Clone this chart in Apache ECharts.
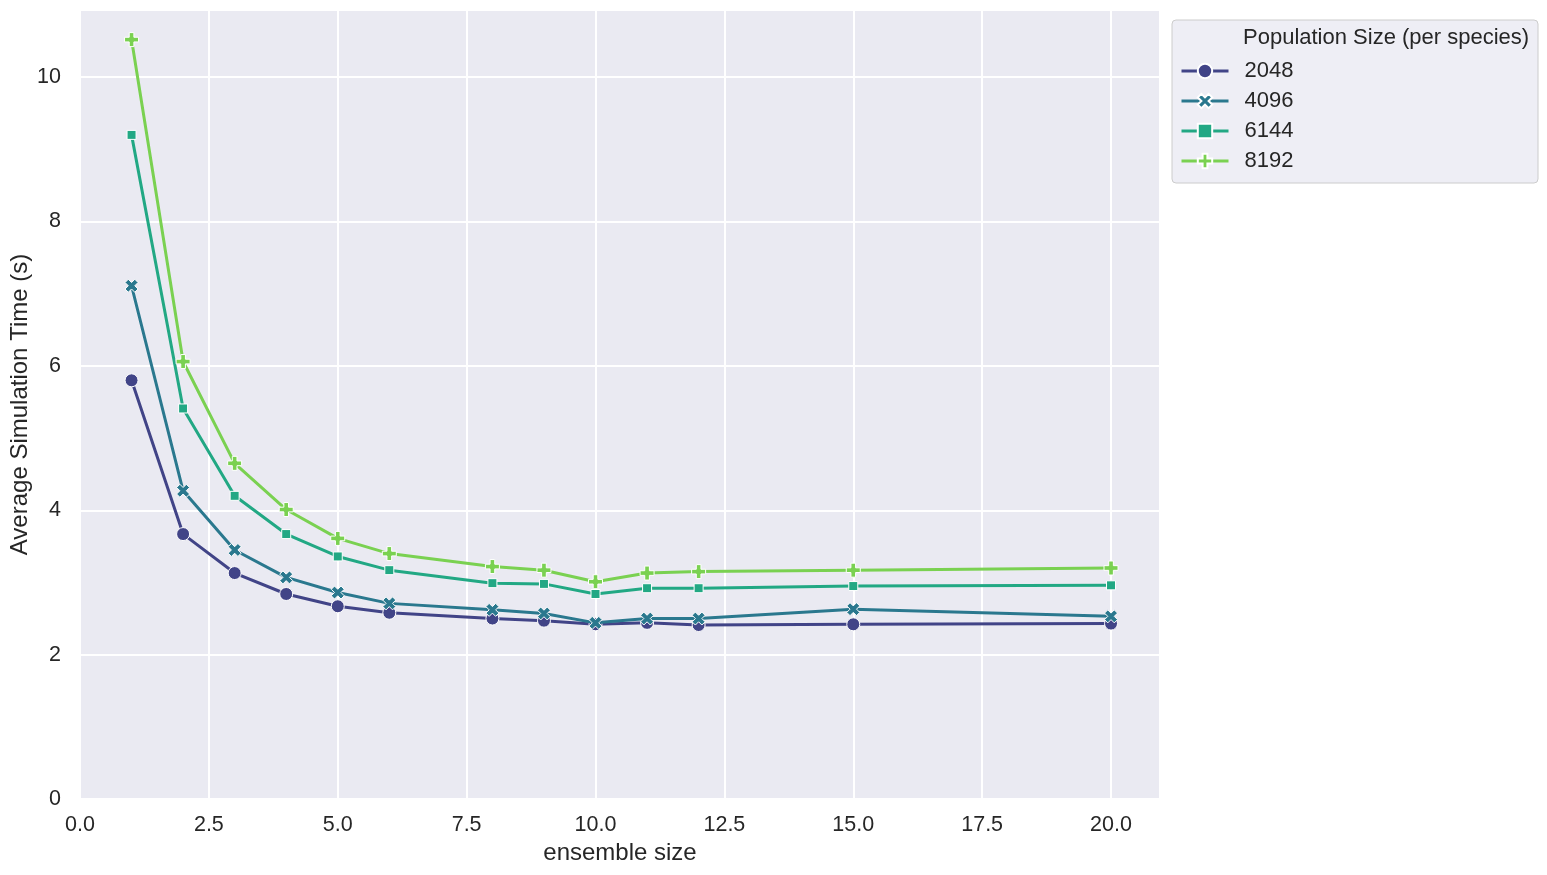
<!DOCTYPE html>
<html>
<head>
<meta charset="utf-8">
<script src="https://cdn.jsdelivr.net/npm/echarts@6/dist/echarts.min.js"></script>
<style>
html,body{margin:0;padding:0;background:#fff;}
#chart{width:1547px;height:875px;}
</style>
</head>
<body>
<div id="chart"></div>
<script>
// ---- data ----
const ensembleSize = [1, 2, 3, 4, 5, 6, 8, 9, 10, 11, 12, 15, 20];
const seriesNames = ['2048', '4096', '6144', '8192'];
const pop2048 = [5.80, 3.67, 3.13, 2.84, 2.67, 2.58, 2.50, 2.47, 2.42, 2.44, 2.41, 2.42, 2.43];
const pop4096 = [7.11, 4.27, 3.45, 3.07, 2.86, 2.71, 2.62, 2.57, 2.44, 2.50, 2.50, 2.63, 2.53];
const pop6144 = [9.20, 5.41, 4.20, 3.67, 3.36, 3.17, 2.99, 2.98, 2.84, 2.92, 2.92, 2.95, 2.96];
const pop8192 = [10.52, 6.06, 4.65, 4.01, 3.61, 3.40, 3.22, 3.17, 3.01, 3.13, 3.15, 3.17, 3.20];
const xTickLabels = ['0.0', '2.5', '5.0', '7.5', '10.0', '12.5', '15.0', '17.5', '20.0'];
const yTickLabels = ['0', '2', '4', '6', '8', '10'];
const legendTitle = 'Population Size (per species)';
const xName = 'ensemble size';
const yName = 'Average Simulation Time (s)';

// ---- styles ----
const FONT = "'Liberation Sans', Arial, sans-serif";
const TXT = '#262626';
const colors = ['#414487', '#2a788e', '#22a884', '#7ad151'];
const symX = 'path://M1,0 L2,1 L1,2 L0,1 L-1,2 L-2,1 L-1,0 L-2,-1 L-1,-2 L0,-1 L1,-2 L2,-1 Z';
const symP = 'path://M-1,-3 L1,-3 L1,-1 L3,-1 L3,1 L1,1 L1,3 L-1,3 L-1,1 L-3,1 L-3,-1 L-1,-1 Z';
const symbols = ['circle', symX, 'rect', symP];
const symbolSizes = [13, 13, 9, 14];
const allValues = [pop2048, pop4096, pop6144, pop8192];

const series = seriesNames.map((name, i) => ({
  name: name,
  type: 'line',
  data: ensembleSize.map((x, j) => [x, allValues[i][j]]),
  symbol: symbols[i],
  symbolSize: symbolSizes[i],
  showSymbol: true,
  lineStyle: { width: 3, color: colors[i] },
  itemStyle: { color: colors[i], borderColor: '#ffffff', borderWidth: 1 },
  z: 3 + i
}));

const chart = echarts.init(document.getElementById('chart'), null, { renderer: 'canvas' });
chart.setOption({
  animation: false,
  color: colors,
  textStyle: { fontFamily: FONT, color: TXT },
  grid: {
    left: 80, right: 387, top: 10, bottom: 76,
    outerBoundsMode: 'none',
    containLabel: false,
    show: true, backgroundColor: '#eaeaf2', borderWidth: 0
  },
  xAxis: {
    type: 'value',
    min: 0, max: 20.95, interval: 2.5,
    name: xName, nameLocation: 'middle', nameGap: 42,
    nameMoveOverlap: false,
    nameTextStyle: { fontSize: 24, color: TXT, fontFamily: FONT },
    axisLine: { show: false }, axisTick: { show: false },
    splitLine: { show: true, lineStyle: { color: '#ffffff', width: 2 } },
    axisLabel: {
      fontSize: 21.5, color: TXT, fontFamily: FONT, margin: 15,
      showMaxLabel: false,
      formatter: v => {
        const k = Math.round(v / 2.5);
        return (Math.abs(v - k * 2.5) < 1e-6 && k < xTickLabels.length) ? xTickLabels[k] : '';
      }
    }
  },
  yAxis: {
    type: 'value',
    min: 0, max: 10.93, interval: 2,
    name: yName, nameLocation: 'middle', nameGap: 48,
    nameMoveOverlap: false,
    nameTextStyle: { fontSize: 24, color: TXT, fontFamily: FONT },
    axisLine: { show: false }, axisTick: { show: false },
    splitLine: { show: true, lineStyle: { color: '#ffffff', width: 2 } },
    axisLabel: {
      fontSize: 21.5, color: TXT, fontFamily: FONT, margin: 19,
      showMaxLabel: false,
      formatter: v => {
        const k = Math.round(v / 2);
        return (Math.abs(v - k * 2) < 1e-6 && k < yTickLabels.length) ? yTickLabels[k] : '';
      }
    }
  },
  legend: {
    data: seriesNames,
    orient: 'vertical',
    left: 1180, top: 60,
    itemWidth: 47, itemHeight: 18, itemGap: 8,
    padding: 0,
    z: 10,
    lineStyle: { width: 3 },
    textStyle: { fontSize: 22, color: TXT, fontFamily: FONT, padding: [0, 0, 0, 11] }
  },
  graphic: [
    {
      type: 'rect', z: 1,
      shape: { x: 1172, y: 20, width: 366, height: 163, r: 4 },
      style: { fill: '#eeeef5', stroke: '#cccccc', lineWidth: 1 }
    },
    {
      type: 'text', z: 2,
      x: 1243, y: 38,
      style: { text: legendTitle, fill: TXT, font: '22px ' + FONT, verticalAlign: 'middle', align: 'left' }
    }
  ],
  series: series
});
</script>
</body>
</html>
